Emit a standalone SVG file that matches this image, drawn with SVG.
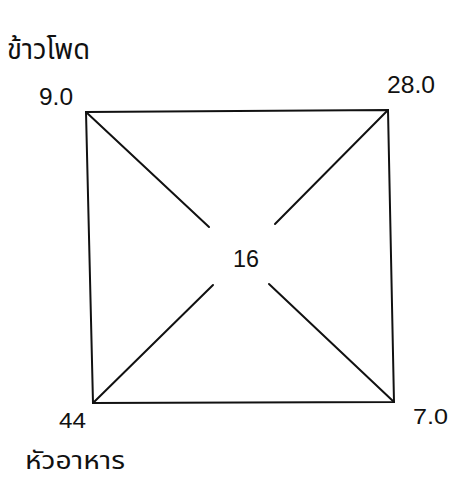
<svg xmlns="http://www.w3.org/2000/svg" width="451" height="482" viewBox="0 0 451 482">
<style>
.t{font-family:"Liberation Sans",Arial,sans-serif;fill:#111;}
.th{font-family:"Noto Sans Thai","Noto Sans","DejaVu Sans",sans-serif;fill:#111;font-size:28px;}
.ln{stroke:#111;stroke-width:2;fill:none;stroke-linecap:round;}
</style>
<rect width="451" height="482" fill="#fff"/>
<g id="connectors">
<path class="ln" d="M86,112 L388,110 L394,402 L93,403 Z"/>
<line class="ln" x1="86" y1="112" x2="209" y2="227"/>
<line class="ln" x1="388" y1="110" x2="275" y2="224"/>
<line class="ln" x1="93" y1="403" x2="213" y2="285"/>
<line class="ln" x1="394" y1="402" x2="269" y2="284"/>
</g>
<g id="label-corn"><text class="th" x="7" y="59" textLength="83" lengthAdjust="spacingAndGlyphs">ข้าวโพด</text></g>
<g id="label-feed"><text class="th" x="25" y="469" textLength="100" lengthAdjust="spacingAndGlyphs" style="font-size:25px">หัวอาหาร</text></g>
<g id="tl"><text class="t" x="39" y="105" font-size="23" textLength="34" lengthAdjust="spacingAndGlyphs">9.0</text></g>
<g id="tr"><text class="t" x="387" y="93" font-size="23" textLength="48" lengthAdjust="spacingAndGlyphs">28.0</text></g>
<g id="bl"><text class="t" x="59" y="428" font-size="22" textLength="27" lengthAdjust="spacingAndGlyphs">44</text></g>
<g id="br"><text class="t" x="413" y="424" font-size="22" textLength="35" lengthAdjust="spacingAndGlyphs">7.0</text></g>
<g id="center"><text class="t" x="233" y="267" font-size="23" textLength="26" lengthAdjust="spacingAndGlyphs">16</text></g>
</svg>
